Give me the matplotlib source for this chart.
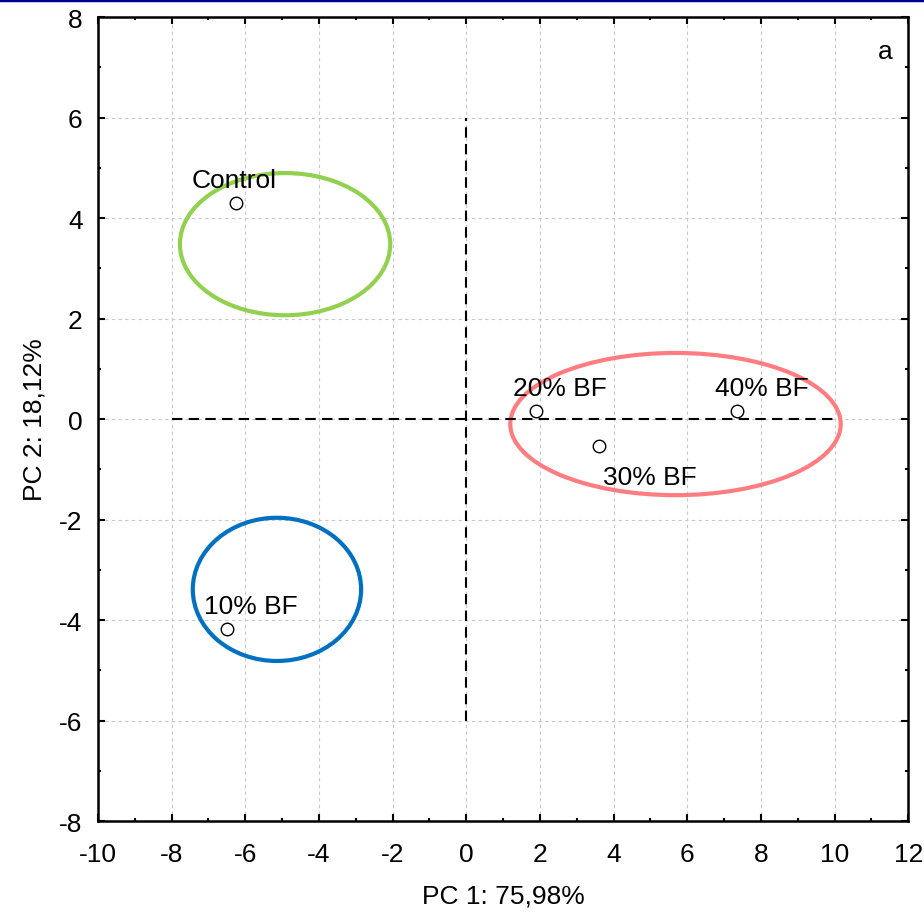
import matplotlib
matplotlib.use("Agg")
import matplotlib.pyplot as plt
from matplotlib.patches import Ellipse
from matplotlib.ticker import MultipleLocator

plt.rcParams['font.family'] = ['Liberation Sans', 'DejaVu Sans']
plt.rcParams['axes.unicode_minus'] = False

# sample scores on PC1 / PC2
names = ["Control", "10% BF", "20% BF", "30% BF", "40% BF"]
pc1 = [-6.25, -6.49, 1.90, 3.61, 7.36]
pc2 = [4.30, -4.18, 0.16, -0.54, 0.16]

# group ellipses: centre x, centre y, width, height, colour
ell_x = [-4.92, 5.68, -5.14]
ell_y = [3.48, -0.10, -3.39]
ell_w = [5.71, 8.97, 4.57]
ell_h = [2.83, 2.83, 2.85]
ell_col = ["#92d050", "#ff7c80", "#0070c0"]

fs = 19

fig = plt.figure(figsize=(9.24, 9.20), dpi=100)
ax = fig.add_axes([0.106, 0.1065, 0.877, 0.8739])

# blue rule at very top of figure
fig.add_artist(plt.Line2D([0, 1], [0.999, 0.999], color="#000090", lw=2.5,
                          transform=fig.transFigure))

ax.set_xlim(-10, 12)
ax.set_ylim(-8, 8)
ax.xaxis.set_major_locator(MultipleLocator(2))
ax.xaxis.set_minor_locator(MultipleLocator(1))
ax.yaxis.set_major_locator(MultipleLocator(2))
ax.yaxis.set_minor_locator(MultipleLocator(1))
ax.tick_params(which="both", direction="in", top=True, right=True,
               labelsize=fs, width=1.5)
ax.tick_params(which="major", length=5)
ax.tick_params(which="minor", length=2.5)
ax.tick_params(axis="x", which="major", pad=15)
ax.tick_params(axis="y", which="major", pad=11)
ax.grid(True, which="major", linestyle=(0, (3, 3)), color="#c8c8c8", lw=0.8)
ax.set_axisbelow(True)
for s in ax.spines.values():
    s.set_linewidth(1.8)

# reference axes lines
ax.plot([-8, 10], [0, 0], color="black", lw=1.5, linestyle=(0, (5, 3)))
ax.plot([0, 0], [-6, 6], color="black", lw=1.5, linestyle=(0, (5, 3)))

for cx, cy, w, h, c in zip(ell_x, ell_y, ell_w, ell_h, ell_col):
    ax.add_patch(Ellipse((cx, cy), w, h, fill=False, edgecolor=c, lw=3))

ax.plot(pc1, pc2, linestyle="none", marker="o", markersize=9,
        markerfacecolor="white", markeredgecolor="black", markeredgewidth=1,
        zorder=5)

offsets = {"Control": (-1.2, 0.45), "10% BF": (-0.62, 0.45),
           "20% BF": (-0.62, 0.45), "30% BF": (0.1, -0.62),
           "40% BF": (-0.62, 0.45)}
for n, x, y in zip(names, pc1, pc2):
    dx, dy = offsets[n]
    ax.text(x + dx, y + dy, n, fontsize=fs, ha="left", va="center", zorder=6)

ax.text(0.972, 0.958, "a", transform=ax.transAxes, fontsize=fs,
        ha="center", va="center")

ax.set_xlabel("PC 1: 75,98%", fontsize=fs, labelpad=13)
ax.set_ylabel("PC 2: 18,12%", fontsize=fs, labelpad=9)

fig.savefig("out.png", dpi=100)
